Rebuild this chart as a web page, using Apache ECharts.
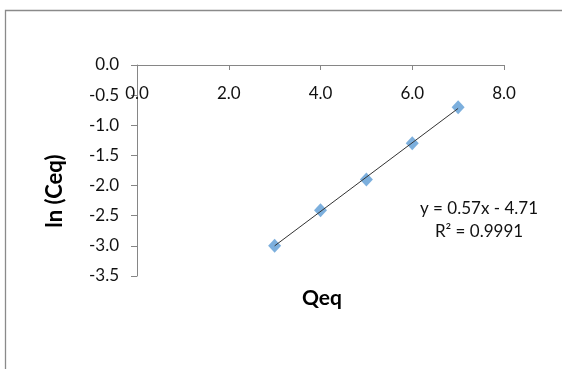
<!DOCTYPE html>
<html>
<head>
<meta charset="utf-8">
<script src="https://cdn.jsdelivr.net/npm/echarts@6/dist/echarts.min.js"></script>
<style>
html,body{margin:0;padding:0;background:#fff;}
#c{width:562px;height:369px;}
</style>
</head>
<body>
<div id="c"></div>
<script>
// Data
var qeq = [3, 4, 5, 6, 7];
var lnCeq = [-3.0, -2.41, -1.90, -1.30, -0.70];
var trendX = [3, 7];
var trendY = [-3.0, -0.72];
var xTicks = [0, 2, 4, 6, 8];
var yTicks = [0, -0.5, -1.0, -1.5, -2.0, -2.5, -3.0, -3.5];
var eqText = 'y = 0.57x - 4.71';
var r2Text = 'R² = 0.9991';
var xName = 'Qeq';
var yName = 'ln (Ceq)';

var pts = qeq.map(function (x, i) { return [x, lnCeq[i]]; });
var trend = trendX.map(function (x, i) { return [x, trendY[i]]; });
var FONT = 'Lato';
var axisGrey = '#868686';

var chart = echarts.init(document.getElementById('c'), null, {renderer: 'canvas'});
chart.setOption({
  animation: false,
  backgroundColor: '#fff',
  grid: {left: 137, right: 58, top: 65, bottom: 93, containLabel: false},
  xAxis: {
    type: 'value', position: 'top',
    min: xTicks[0], max: xTicks[xTicks.length - 1], interval: 2,
    axisLine: {show: true, onZero: false, lineStyle: {color: axisGrey, width: 1}},
    axisTick: {show: true, inside: true, length: 5, lineStyle: {color: axisGrey}},
    splitLine: {show: false},
    axisLabel: {inside: true, margin: 20, fontFamily: FONT, fontSize: 17, color: '#111',
      formatter: function (v) { return v.toFixed(1); }}
  },
  yAxis: {
    type: 'value',
    min: yTicks[yTicks.length - 1], max: yTicks[0], interval: 0.5,
    axisLine: {show: true, onZero: false, lineStyle: {color: axisGrey, width: 1}},
    axisTick: {show: true, inside: false, length: 6, lineStyle: {color: axisGrey}},
    splitLine: {show: false},
    axisLabel: {margin: 18, fontFamily: FONT, fontSize: 17, color: '#111',
      formatter: function (v) { return v.toFixed(1); }}
  },
  series: [
    {
      type: 'scatter', data: pts, symbol: 'diamond', symbolSize: [13, 14],
      itemStyle: {color: '#5b9bd5'}, z: 2
    },
    {
      type: 'line', data: trend, symbol: 'none', z: 3,
      lineStyle: {color: '#333', width: 1}
    }
  ],
  graphic: [
    {type: 'rect', shape: {x: 5.5, y: 10.5, width: 620, height: 420},
     style: {fill: 'none', stroke: '#8a8a8a', lineWidth: 1.3}, silent: true},
    {type: 'text', x: 322, y: 298,
     style: {text: xName, fontFamily: FONT, fontWeight: 'bold', fontSize: 21, fill: '#000',
       textAlign: 'center', textVerticalAlign: 'middle'}},
    {type: 'text', x: 55, y: 191, rotation: Math.PI / 2,
     style: {text: yName, fontFamily: FONT, fontWeight: 'bold', fontSize: 22, fill: '#000',
       textAlign: 'center', textVerticalAlign: 'middle'}},
    {type: 'text', x: 479, y: 209,
     style: {text: eqText, fontFamily: FONT, fontSize: 17, fill: '#111',
       textAlign: 'center', textVerticalAlign: 'middle'}},
    {type: 'text', x: 479, y: 232,
     style: {text: r2Text, fontFamily: FONT, fontSize: 17, fill: '#111',
       textAlign: 'center', textVerticalAlign: 'middle'}}
  ]
});
</script>
</body>
</html>
